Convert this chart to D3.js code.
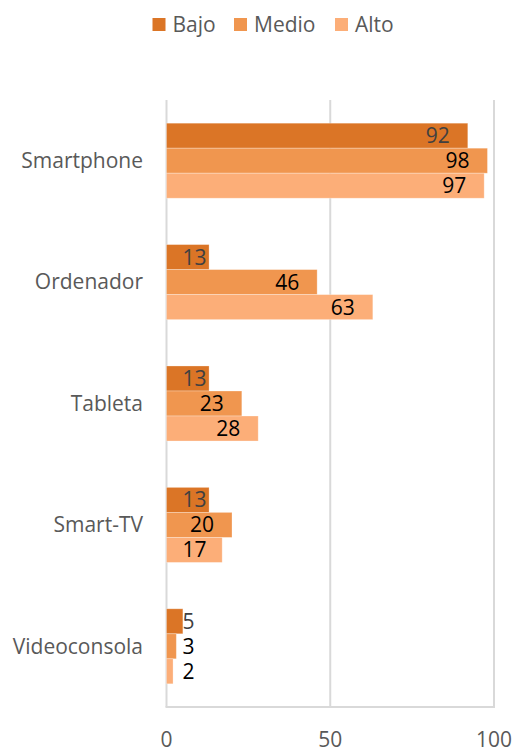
<!DOCTYPE html>
<html>
<head>
<meta charset="utf-8">
<script src="https://cdn.jsdelivr.net/npm/d3@7"></script>
<style>
  body { margin: 0; background: #fff; }
  text { font-family: "Open Sans", "Noto Sans", sans-serif; }
</style>
</head>
<body>
<div id="root"></div>
<script>
"use strict";

// Data
const categories = ["Smartphone", "Ordenador", "Tableta", "Smart-TV", "Videoconsola"];
const seriesNames = ["Bajo", "Medio", "Alto"];
const bajo = [92, 13, 13, 13, 5];
const medio = [98, 46, 23, 20, 3];
const alto = [97, 63, 28, 17, 2];
const xTicks = [0, 50, 100];

const width = 516;
const height = 749;
const margin = { top: 100, right: 22, bottom: 42, left: 166.5 };
const colors = ["#DB7526", "#F0964F", "#FCAE78"];
const labelColors = ["#404040", "#000000", "#000000"];
const fontSize = 21;

const values = [bajo, medio, alto];
const rows = categories.map((c, i) => ({
    cat: c,
    vals: seriesNames.map((s, j) => ({ series: s, idx: j, value: values[j][i] }))
}));

let svg = d3.select('#root').append('svg')
    .attr('width', width)
    .attr('height', height);

let xScale = d3.scaleLinear()
    .domain([0, 100])
    .range([margin.left, width - margin.right]);

let yScale = d3.scaleBand()
    .domain(categories)
    .range([margin.top, height - margin.bottom])
    .paddingInner(0.382)
    .paddingOuter(0.191);

let subScale = d3.scaleBand()
    .domain(seriesNames)
    .range([0, yScale.bandwidth()]);

// Gridlines
svg.append('g')
    .selectAll('line')
    .data(xTicks)
    .enter().append('line')
    .attr('x1', d => xScale(d))
    .attr('x2', d => xScale(d))
    .attr('y1', margin.top)
    .attr('y2', height - margin.bottom)
    .attr('stroke', '#D9D9D9')
    .attr('stroke-width', 2);

// Bottom axis line
svg.append('line')
    .attr('x1', xScale(0) - 1)
    .attr('x2', xScale(100) + 1)
    .attr('y1', height - margin.bottom)
    .attr('y2', height - margin.bottom)
    .attr('stroke', '#D9D9D9')
    .attr('stroke-width', 2);

// Tick labels
svg.append('g')
    .selectAll('text')
    .data(xTicks)
    .enter().append('text')
    .attr('x', d => xScale(d))
    .attr('y', 747)
    .attr('text-anchor', 'middle')
    .attr('fill', '#595959')
    .style('font-size', fontSize + 'px')
    .text(d => d);

// Category labels
svg.append('g')
    .selectAll('text')
    .data(categories)
    .enter().append('text')
    .attr('x', 143)
    .attr('y', d => yScale(d) + yScale.bandwidth() / 2)
    .attr('dy', '0.35em')
    .attr('text-anchor', 'end')
    .attr('fill', '#595959')
    .style('font-size', fontSize + 'px')
    .text(d => d);

// Bars
let groups = svg.append('g')
    .selectAll('g')
    .data(rows)
    .enter().append('g')
    .attr('transform', d => `translate(0,${yScale(d.cat)})`);

groups.selectAll('rect')
    .data(d => d.vals)
    .enter().append('rect')
    .attr('x', xScale(0))
    .attr('y', d => subScale(d.series))
    .attr('width', d => xScale(d.value) - xScale(0))
    .attr('height', subScale.bandwidth())
    .attr('fill', d => colors[d.idx])
    .attr('stroke', '#fff')
    .attr('stroke-opacity', 0.35)
    .attr('stroke-width', 0.8);

// Value labels (inside end, pushed out when bar is too short)
groups.selectAll('text')
    .data(d => d.vals)
    .enter().append('text')
    .attr('y', d => subScale(d.series) + subScale.bandwidth() / 2)
    .attr('dy', '0.36em')
    .attr('text-anchor', 'end')
    .attr('fill', d => labelColors[d.idx])
    .style('font-size', fontSize + 'px')
    .text(d => d.value)
    .each(function (d) {
        const w = this.getComputedTextLength();
        const x = Math.max(xScale(d.value) - 18, xScale(0) + 16 + w);
        d3.select(this).attr('x', x);
    });

// Legend
const legendX = [152.5, 234, 335];
let legend = svg.append('g')
    .selectAll('g')
    .data(seriesNames)
    .enter().append('g')
    .attr('transform', (d, i) => `translate(${legendX[i]},18)`);

legend.append('rect')
    .attr('width', 13)
    .attr('height', 13)
    .attr('fill', (d, i) => colors[i]);

legend.append('text')
    .attr('x', 20)
    .attr('y', 6.5)
    .attr('dy', '0.36em')
    .attr('fill', '#595959')
    .style('font-size', fontSize + 'px')
    .text(d => d);
</script>
</body>
</html>
